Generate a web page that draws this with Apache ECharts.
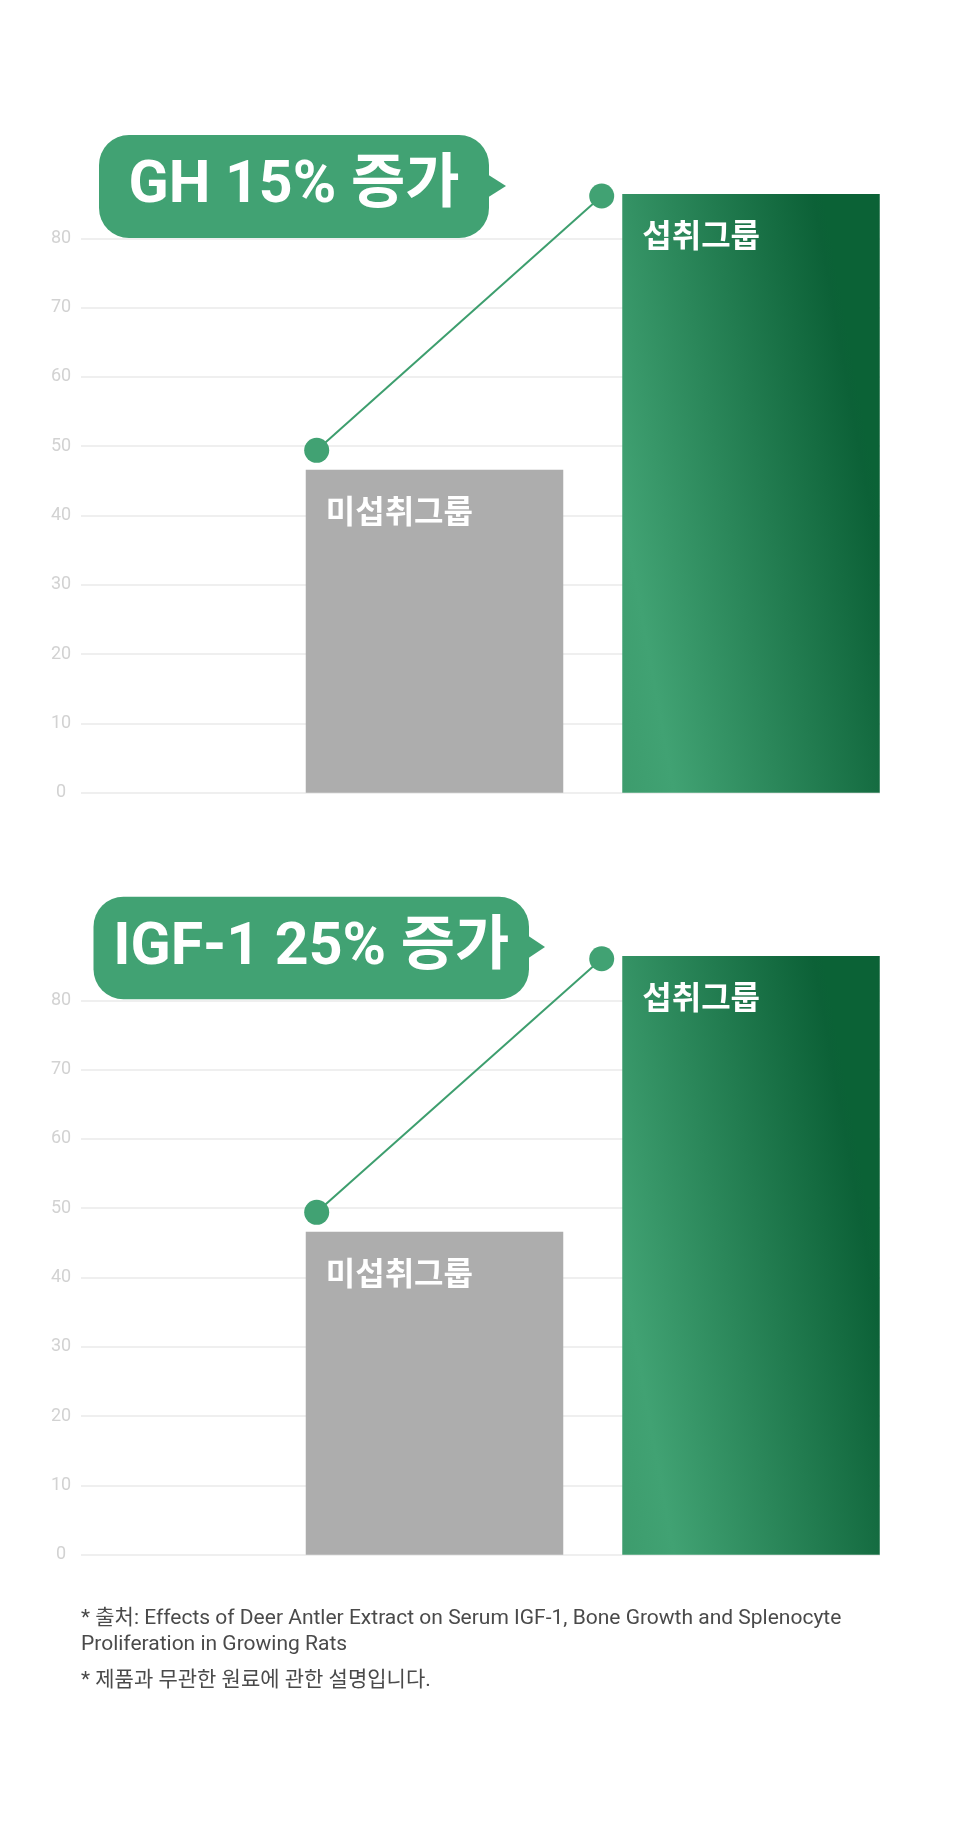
<!DOCTYPE html>
<html>
<head>
<meta charset="utf-8">
<script src="https://cdn.jsdelivr.net/npm/echarts@6/dist/echarts.min.js"></script>
<style>
html,body{margin:0;padding:0;background:#fff;}
#chart{width:960px;height:1827px;}
</style>
</head>
<body>
<div id="chart"></div>
<script>
// ---- data ----
const categories = ['미섭취그룹', '섭취그룹'];
const ghBarValues = [46.6, 86.4];
const ghLineValues = [49.4, 86.1];
const igfBarValues = [46.6, 86.4];
const igfLineValues = [49.4, 86.0];
const yMin = 0;
const yMax = 80;
const yInterval = 10;
const bubbleTitles = ['GH 15% 증가', 'IGF-1 25% 증가'];
const footnotes = [
  '* 출처: Effects of Deer Antler Extract on Serum IGF-1, Bone Growth and Splenocyte',
  'Proliferation in Growing Rats',
  '* 제품과 무관한 원료에 관한 설명입니다.'
];

// ---- styles ----
const GREEN = '#41a273';
const greenGradient = {
  type: 'linear', x: 0, y: 1, x2: 1.164, y2: 0.909,
  colorStops: [
    { offset: 0, color: '#3d9c6d' },
    { offset: 0.168, color: '#41a273' },
    { offset: 0.968, color: '#0c6137' },
    { offset: 1, color: '#0b6236' }
  ]
};
const labelFont = 'Roboto, "Noto Sans CJK KR", sans-serif';

const panels = [
  { top: 238.3, bottom: 792.7, bars: ghBarValues, line: ghLineValues },
  { top: 1000.3, bottom: 1554.7, bars: igfBarValues, line: igfLineValues }
];

const grid = [], xAxis = [], yAxis = [], series = [];
panels.forEach((p, k) => {
  const h = p.bottom - p.top;
  const base = k * 3;
  // axis grid (labels + split lines)
  grid.push({ left: 81, width: 799, top: p.top, height: h });
  // bar grid
  grid.push({ left: 276.25, width: 633, top: p.top, height: h });
  // line grid
  grid.push({ left: 174.2, width: 570, top: p.top, height: h });
  for (let i = 0; i < 3; i++) {
    xAxis.push({ type: 'category', gridIndex: base + i, data: categories, show: false, boundaryGap: true });
    yAxis.push({
      type: 'value', gridIndex: base + i, min: yMin, max: yMax, interval: yInterval,
      show: i === 0,
      axisLine: { show: false }, axisTick: { show: false },
      splitLine: { show: i === 0, lineStyle: { color: '#efefef', width: 2 } },
      axisLabel: { color: '#d2d2d2', fontSize: 18, fontFamily: labelFont, align: 'center', margin: 20 }
    });
  }
  series.push({
    type: 'bar', xAxisIndex: base + 1, yAxisIndex: base + 1, clip: false,
    barWidth: 257.5,
    data: p.bars.map((v, i) => ({
      value: v,
      itemStyle: { color: i === 0 ? '#adadad' : greenGradient }
    })),
    label: {
      show: true, position: [20, 25], color: '#fff',
      fontSize: 32, fontWeight: 'bold', fontFamily: '"Noto Sans CJK KR", sans-serif',
      formatter: (d) => d.name
    },
    silent: true, z: 2
  });
  series.push({
    type: 'line', xAxisIndex: base + 2, yAxisIndex: base + 2, clip: false,
    data: p.line, symbol: 'circle', symbolSize: 25,
    lineStyle: { color: '#3d9e6e', width: 2 },
    itemStyle: { color: GREEN },
    silent: true, z: 3, animation: false
  });
});

const bubbles = [
  { x: 99, y: 135, w: 390, h: 103, tipX: 506, tipY: 186 },
  { x: 93.5, y: 896.7, w: 435.5, h: 102.6, tipX: 545, tipY: 947 }
];
const graphic = [];
bubbles.forEach((b, i) => {
  graphic.push({ type: 'rect', shape: { x: b.x, y: b.y, width: b.w, height: b.h, r: 30 }, style: { fill: GREEN }, z: 10 });
  graphic.push({ type: 'polygon', shape: { points: [[b.x + b.w - 2, b.tipY - 12], [b.tipX, b.tipY], [b.x + b.w - 2, b.tipY + 12]] }, style: { fill: GREEN }, z: 10 });
  graphic.push({
    type: 'text', x: b.x + b.w / 2, y: b.y + b.h / 2 + 1, z: 11,
    style: { text: bubbleTitles[i], fill: '#fff', fontSize: 59, fontWeight: 'bold', fontFamily: labelFont, align: 'center', verticalAlign: 'middle' }
  });
});
const noteY = [1619, 1645, 1681];
footnotes.forEach((t, i) => {
  graphic.push({
    type: 'text', x: 81, y: noteY[i], z: 11,
    style: { text: t, fill: '#4a4a4a', fontSize: 21, fontFamily: labelFont, align: 'left', verticalAlign: 'middle' }
  });
});

const chart = echarts.init(document.getElementById('chart'));
chart.setOption({
  animation: false,
  backgroundColor: '#fff',
  grid, xAxis, yAxis, series, graphic
});
</script>
</body>
</html>
